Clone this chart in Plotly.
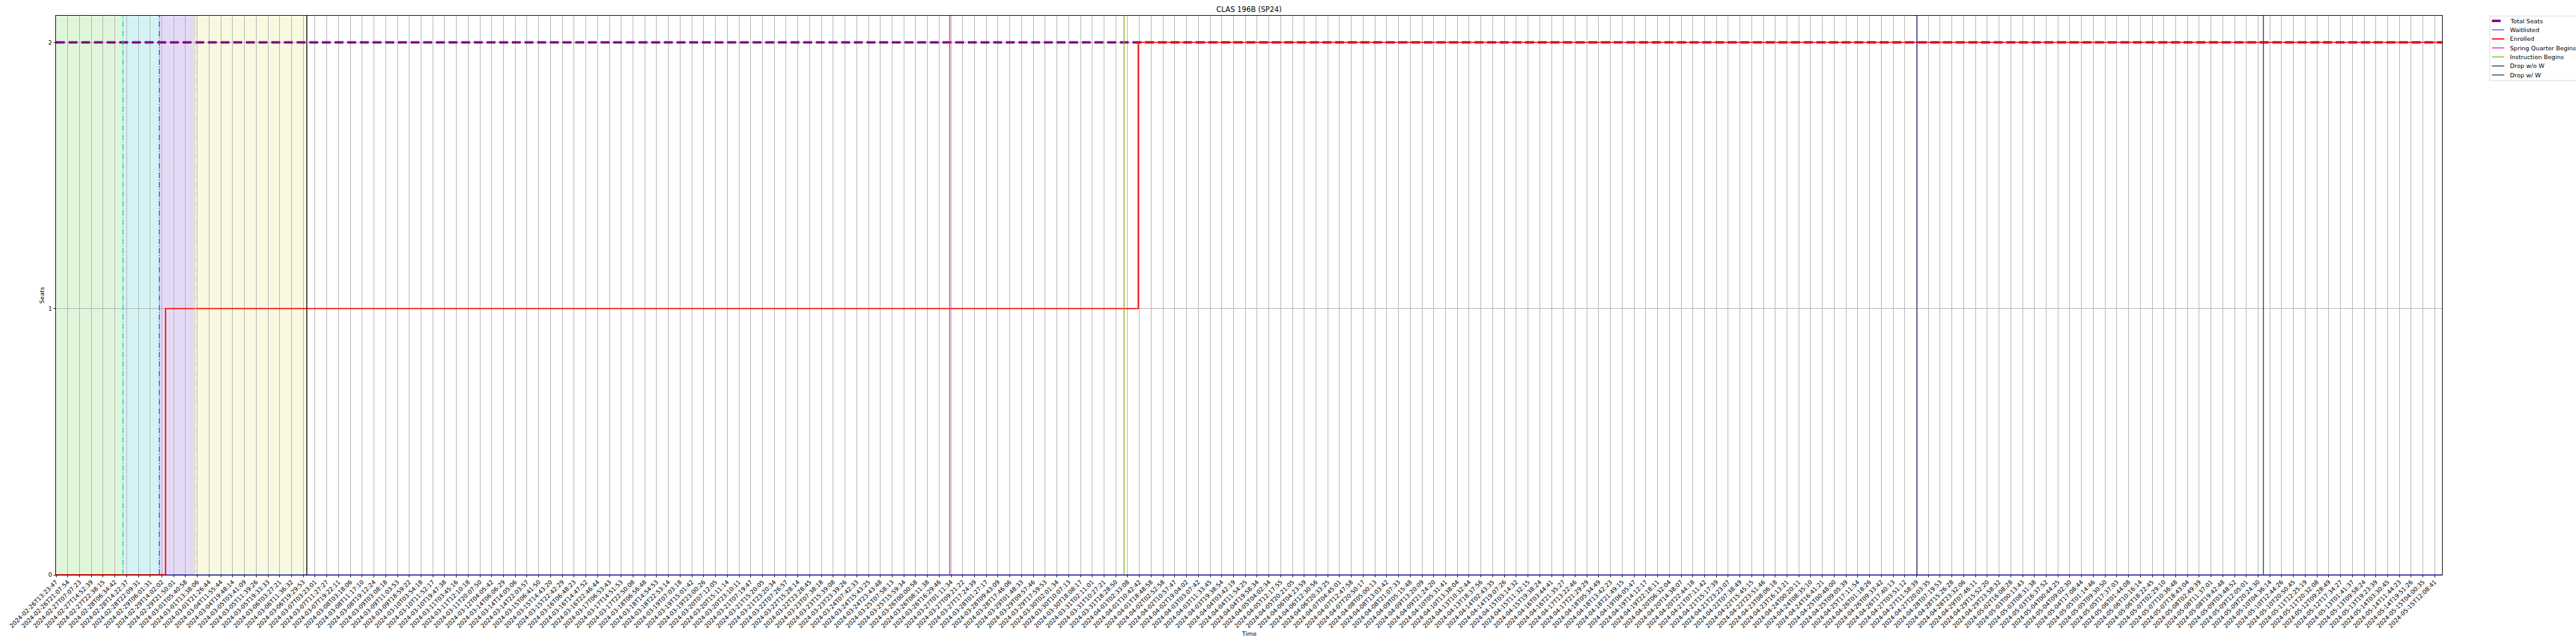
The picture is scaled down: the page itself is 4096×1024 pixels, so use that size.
import plotly.graph_objects as go

S = 4096 / 6000  # scale from reference pixels

# ---------------- data ----------------
tick_labels = [
    "2024-02-26T13:23:47", "2024-02-26T21:07:54", "2024-02-27T07:07:23", "2024-02-27T14:52:39",
    "2024-02-27T22:38:15", "2024-02-28T06:34:42", "2024-02-28T14:22:37", "2024-02-28T22:09:31",
    "2024-02-29T06:01:31", "2024-02-29T14:02:02", "2024-02-29T21:50:01", "2024-03-01T05:40:58",
    "2024-03-01T13:38:06", "2024-03-01T21:26:44", "2024-03-04T11:55:44", "2024-03-04T19:48:14",
    "2024-03-05T03:41:09", "2024-03-05T11:39:26", "2024-03-05T19:33:33", "2024-03-06T03:27:21",
    "2024-03-06T11:36:32", "2024-03-06T19:29:53", "2024-03-07T03:23:01", "2024-03-07T11:27:27",
    "2024-03-07T19:22:11", "2024-03-08T03:18:06", "2024-03-08T11:17:10", "2024-03-08T19:12:24",
    "2024-03-09T03:08:18", "2024-03-09T11:03:53", "2024-03-09T18:59:22", "2024-03-10T03:54:18",
    "2024-03-10T11:52:17", "2024-03-10T19:47:38", "2024-03-11T03:45:16", "2024-03-11T12:10:18",
    "2024-03-11T20:07:50", "2024-03-12T04:05:42", "2024-03-14T06:06:29", "2024-03-14T14:05:06",
    "2024-03-14T22:03:57", "2024-03-15T06:41:50", "2024-03-15T14:43:20", "2024-03-15T22:42:29",
    "2024-03-16T06:48:23", "2024-03-16T14:47:52", "2024-03-16T22:46:44", "2024-03-17T06:53:43",
    "2024-03-17T14:51:53", "2024-03-17T22:50:08", "2024-03-18T06:56:48", "2024-03-18T14:54:53",
    "2024-03-18T22:53:14", "2024-03-19T07:03:18", "2024-03-19T15:01:42", "2024-03-19T23:00:26",
    "2024-03-20T07:12:05", "2024-03-20T15:11:14", "2024-03-20T23:10:11", "2024-03-21T07:19:47",
    "2024-03-21T15:20:05", "2024-03-21T23:20:34", "2024-03-22T07:26:57", "2024-03-22T15:28:14",
    "2024-03-22T23:28:45", "2024-03-23T07:38:18", "2024-03-23T15:39:08", "2024-03-23T23:39:26",
    "2024-03-24T07:42:33", "2024-03-24T15:43:25", "2024-03-24T23:43:48", "2024-03-25T07:58:13",
    "2024-03-25T15:59:34", "2024-03-26T00:00:58", "2024-03-26T08:11:38", "2024-03-26T16:29:46",
    "2024-03-27T01:11:34", "2024-03-27T09:21:22", "2024-03-27T17:24:39", "2024-03-28T01:27:17",
    "2024-03-28T09:43:09", "2024-03-28T17:46:06", "2024-03-29T01:48:33", "2024-03-29T09:57:46",
    "2024-03-29T17:59:53", "2024-03-30T02:01:34", "2024-03-30T10:07:13", "2024-03-30T18:08:17",
    "2024-03-31T02:11:01", "2024-03-31T10:27:21", "2024-03-31T18:28:50", "2024-04-01T02:33:08",
    "2024-04-01T10:42:42", "2024-04-01T18:48:58", "2024-04-02T02:52:58", "2024-04-02T10:57:47",
    "2024-04-02T19:04:02", "2024-04-03T03:07:42", "2024-04-03T11:33:45", "2024-04-03T19:38:54",
    "2024-04-04T03:42:19", "2024-04-04T11:54:25", "2024-04-04T19:58:34", "2024-04-05T04:02:34",
    "2024-04-05T12:17:55", "2024-04-05T20:21:05", "2024-04-06T04:23:59", "2024-04-06T12:30:56",
    "2024-04-06T20:33:25", "2024-04-07T04:45:01", "2024-04-07T12:47:58", "2024-04-07T20:50:17",
    "2024-04-08T05:00:13", "2024-04-08T13:03:42", "2024-04-08T21:07:33", "2024-04-09T05:15:48",
    "2024-04-09T13:20:09", "2024-04-09T21:24:20", "2024-04-10T05:31:41", "2024-04-10T13:38:04",
    "2024-04-13T10:32:44", "2024-04-13T18:37:56", "2024-04-14T02:43:35", "2024-04-14T19:07:26",
    "2024-04-15T03:14:32", "2024-04-15T11:32:15", "2024-04-15T19:38:24", "2024-04-16T03:44:41",
    "2024-04-16T21:35:27", "2024-04-17T13:22:46", "2024-04-17T21:29:29", "2024-04-18T05:34:49",
    "2024-04-18T13:42:23", "2024-04-18T21:49:15", "2024-04-19T06:05:47", "2024-04-19T14:12:17",
    "2024-04-19T22:18:11", "2024-04-20T06:32:04", "2024-04-20T14:38:07", "2024-04-20T22:44:18",
    "2024-04-21T07:11:42", "2024-04-21T15:17:39", "2024-04-21T23:23:07", "2024-04-22T07:38:49",
    "2024-04-22T15:45:15", "2024-04-22T23:51:46", "2024-04-23T08:06:18", "2024-04-23T16:13:21",
    "2024-04-24T00:20:11", "2024-04-24T08:35:10", "2024-04-24T16:41:21", "2024-04-25T00:48:00",
    "2024-04-25T09:05:39", "2024-04-25T17:11:54", "2024-04-26T01:18:26", "2024-04-26T09:33:42",
    "2024-04-26T17:40:13", "2024-04-27T03:51:12", "2024-04-27T11:58:39", "2024-04-27T20:03:35",
    "2024-04-28T07:19:53", "2024-04-28T15:26:28", "2024-04-28T23:32:06", "2024-04-29T07:46:11",
    "2024-04-29T15:52:20", "2024-04-29T23:58:32", "2024-05-02T16:08:28", "2024-05-03T00:13:43",
    "2024-05-03T08:31:38", "2024-05-03T16:37:52", "2024-05-04T00:44:25", "2024-05-04T09:02:30",
    "2024-05-04T17:08:44", "2024-05-05T01:14:46", "2024-05-05T09:30:50", "2024-05-05T17:37:03",
    "2024-05-06T01:44:08", "2024-05-06T10:16:14", "2024-05-06T18:22:45", "2024-05-07T02:29:10",
    "2024-05-07T10:36:48", "2024-05-07T18:43:04", "2024-05-08T02:49:39", "2024-05-08T11:37:01",
    "2024-05-08T19:42:48", "2024-05-09T03:48:52", "2024-05-09T12:05:01", "2024-05-09T20:24:30",
    "2024-05-10T04:36:14", "2024-05-10T12:44:26", "2024-05-10T20:50:45", "2024-05-11T12:25:19",
    "2024-05-11T20:32:08", "2024-05-12T09:28:49", "2024-05-12T17:34:27", "2024-05-13T01:41:37",
    "2024-05-13T09:58:24", "2024-05-13T19:23:39", "2024-05-14T03:30:45", "2024-05-14T11:44:23",
    "2024-05-14T19:51:26", "2024-05-15T04:00:35", "2024-05-15T12:08:41",
]
tick_positions = list(range(len(tick_labels)))
x_last = 202.62            # last sample position (in tick units)
y_max = 2.1
y_ticks = [0, 1, 2]

total_seats_x = [0, x_last]
total_seats_y = [2, 2]
waitlisted_x = [0, x_last]
waitlisted_y = [0, 0]
enrolled_x = [0, 9.31, 91.9, x_last]
enrolled_y = [0, 1, 2, 2]

event_names = ["Spring Quarter Begins", "Instruction Begins", "Drop w/o W", "Drop w/ W"]
event_pos = [75.9, 90.7, 158.03, 187.45]
event_colors = ["#e0209a", "#8db312", "#2e2a85", "#2c3e55"]

phase_start = [0, 5.69, 8.78, 11.82]
phase_end = [5.69, 9.04, 11.82, 21.3]
phase_fill = ["#d9f5d4", "#cdf1f3", "#e1d4f5", "#f7f8da"]
phase_line_pos = [5.69, 8.78, 11.82]
phase_line_colors = ["#00c8d0", "#6a2bd8", "#e8e840"]
enroll_close_pos = 21.3

# ---------------- geometry (reference px -> window px) ----------------
L, R, T, B = 131 * S, 5688 * S, 37 * S, 1339 * S
W, H = 4096, 1024
FONT = "DejaVu Sans"
f_tick = 13.9 * S
f_title = 16.7 * S

def px_x(px):
    return (px * S - L) / (R - L)

def px_y(py):
    return (B - py * S) / (B - T)

styles = {
    "Total Seats": dict(color="#800080", width=5.56 * S, dash="%gpx,%gpx" % (20.6 * S, 8.9 * S)),
    "Waitlisted": dict(color="#0000ff", width=1.4 * S, dash="solid"),
    "Enrolled": dict(color="#ff0000", width=2.78 * S, dash="solid"),
}
for n, c in zip(event_names, event_colors):
    styles[n] = dict(color=c, width=2.08 * S, dash="solid")

fig = go.Figure()
fig.add_trace(go.Scatter(x=total_seats_x, y=total_seats_y, mode="lines", name="Total Seats",
                         line=styles["Total Seats"], showlegend=False))
fig.add_trace(go.Scatter(x=waitlisted_x, y=waitlisted_y, mode="lines", name="Waitlisted",
                         line=styles["Waitlisted"], line_shape="hv", showlegend=False))
fig.add_trace(go.Scatter(x=enrolled_x, y=enrolled_y, mode="lines", name="Enrolled",
                         line=styles["Enrolled"], line_shape="hv", showlegend=False))

shapes = []
# shaded enrollment phases
for x0, x1, c in zip(phase_start, phase_end, phase_fill):
    shapes.append(dict(type="rect", xref="x", yref="paper", x0=x0, x1=x1, y0=0, y1=1,
                       fillcolor=c, line=dict(width=0), layer="below", opacity=0.85))
# phase boundary dash-dot lines
dd = "%gpx,%gpx,%gpx,%gpx" % (13.3 * S, 3.3 * S, 2.1 * S, 3.3 * S)
for p, c in zip(phase_line_pos, phase_line_colors):
    shapes.append(dict(type="line", xref="x", yref="paper", x0=p, x1=p, y0=0, y1=1,
                       line=dict(color=c, width=2.08 * S, dash=dd), layer="above"))
shapes.append(dict(type="line", xref="x", yref="paper", x0=enroll_close_pos, x1=enroll_close_pos,
                   y0=0, y1=1, line=dict(color="black", width=2.08 * S), layer="above"))
# event lines
for n, p in zip(event_names, event_pos):
    shapes.append(dict(type="line", xref="x", yref="paper", x0=p, x1=p, y0=0, y1=1,
                       line=styles[n], layer="above"))

# ---------------- manual legend (matplotlib style, outside right) ----------------
legend_names = ["Total Seats", "Waitlisted", "Enrolled"] + event_names
annotations = []
shapes.append(dict(type="rect", xref="paper", yref="paper",
                   x0=px_x(5799), x1=px_x(6010), y0=px_y(188), y1=px_y(37.7),
                   fillcolor="rgba(255,255,255,0.8)", line=dict(color="#cccccc", width=1.1 * S),
                   layer="above"))
for i, n in enumerate(legend_names):
    yc = 49 + 21 * i
    st = dict(styles[n])
    shapes.append(dict(type="line", xref="paper", yref="paper",
                       x0=px_x(5804), x1=px_x(5833), y0=px_y(yc), y1=px_y(yc),
                       line=st, layer="above"))
    annotations.append(dict(text=n, xref="paper", yref="paper", x=px_x(5843), y=px_y(yc),
                            xanchor="left", yanchor="middle", showarrow=False,
                            font=dict(family=FONT, size=f_tick, color="black")))

# x-axis title placed like matplotlib's xlabel
annotations.append(dict(text="Time", xref="paper", yref="paper", x=0.5, y=px_y(1476),
                        xanchor="center", yanchor="middle", showarrow=False,
                        font=dict(family=FONT, size=f_tick, color="black")))

fig.update_layout(
    width=W, height=H,
    margin=dict(l=L, r=W - R, t=T, b=H - B, pad=0, autoexpand=False),
    paper_bgcolor="white", plot_bgcolor="white",
    font=dict(family=FONT, size=f_tick, color="black"),
    title=dict(text="CLAS 196B (SP24)", x=0.5, xref="paper", xanchor="center",
               y=1, yref="paper", yanchor="bottom", pad=dict(b=8.3 * S),
               font=dict(family=FONT, size=f_title, color="black")),
    shapes=shapes, annotations=annotations, showlegend=False,
)
fig.update_xaxes(
    range=[0, x_last], tickmode="array", tickvals=tick_positions, ticktext=tick_labels,
    tickangle=-45, ticks="outside", ticklen=4.9 * S, tickwidth=1.1 * S, tickcolor="black",
    ticklabelstandoff=-2,
    showgrid=True, gridcolor="#b0b0b0", gridwidth=1.1 * S, zeroline=False,
    showline=True, linecolor="black", linewidth=1.1 * S, mirror=True,
    tickfont=dict(family=FONT, size=f_tick, color="black"),
    automargin=False,
)
fig.update_yaxes(
    range=[0, y_max], tickmode="array", tickvals=y_ticks, ticktext=[str(v) for v in y_ticks],
    ticks="outside", ticklen=4.9 * S, tickwidth=1.1 * S, tickcolor="black",
    showgrid=True, gridcolor="#b0b0b0", gridwidth=1.1 * S, zeroline=False,
    showline=True, linecolor="black", linewidth=1.1 * S, mirror=True,
    tickfont=dict(family=FONT, size=f_tick, color="black"),
    title=dict(text="Seats", font=dict(family=FONT, size=f_tick, color="black"), standoff=4),
    automargin=False,
)

fig.write_html("out.html", config={"displayModeBar": False},
               post_script="document.body.style.margin='0';document.body.style.overflow='hidden';")
